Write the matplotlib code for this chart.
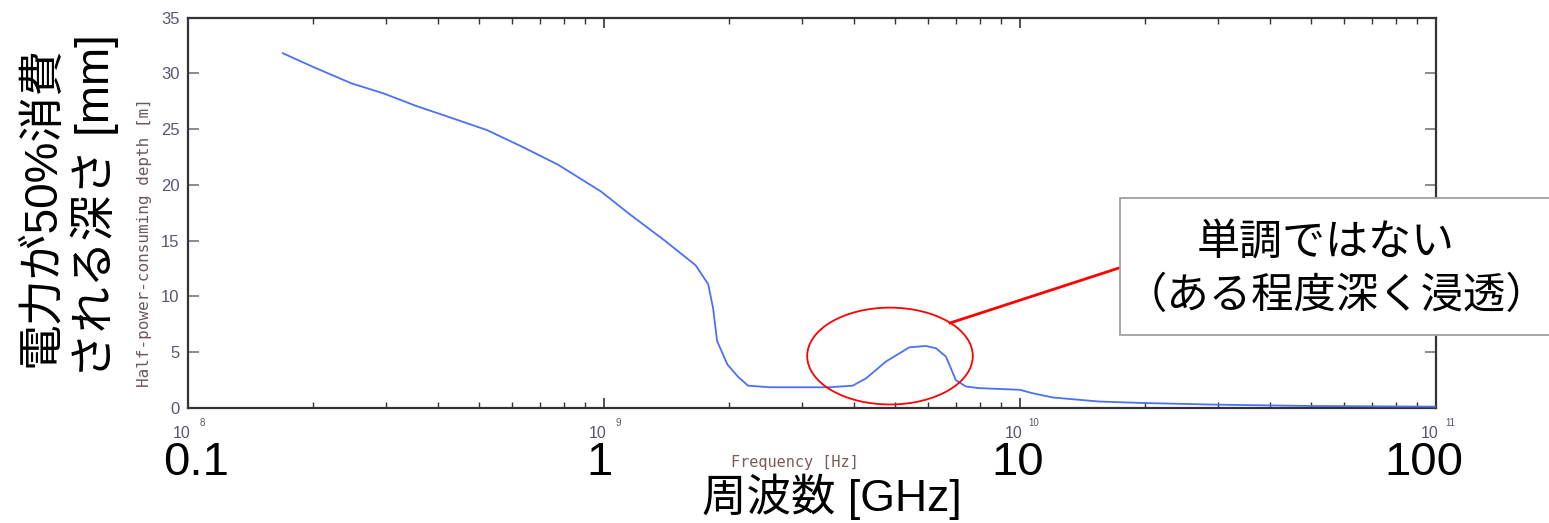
import matplotlib
matplotlib.use("Agg")
import matplotlib.pyplot as plt
from matplotlib.patches import Ellipse, Rectangle
from matplotlib.lines import Line2D
from matplotlib.transforms import ScaledTranslation

# ---------------- data ----------------
freq_hz = [1.69e8, 1.99e8, 2.47e8, 2.95e8, 3.52e8, 4.30e8, 5.24e8, 6.37e8, 7.76e8,
           9.84e8, 1.15e9, 1.40e9, 1.66e9, 1.78e9, 1.83e9, 1.87e9, 1.98e9, 2.10e9,
           2.22e9, 2.50e9, 3.48e9, 3.96e9, 4.27e9, 4.76e9, 5.42e9, 5.94e9, 6.28e9,
           6.64e9, 7.01e9, 7.41e9, 7.98e9, 1.00e10, 1.07e10, 1.20e10, 1.55e10,
           1.97e10, 2.95e10, 5.0e10, 1.0e11]
depth_mm = [31.8, 30.6, 29.1, 28.2, 27.1, 26.0, 24.9, 23.4, 21.8,
            19.4, 17.4, 15.0, 12.8, 11.1, 8.9, 6.0, 3.9, 2.8,
            2.0, 1.86, 1.86, 2.0, 2.67, 4.16, 5.44, 5.56, 5.36,
            4.6, 2.5, 1.93, 1.78, 1.63, 1.33, 0.94, 0.58,
            0.45, 0.30, 0.18, 0.12]

x_major = [1e8, 1e9, 1e10, 1e11]
x_exponents = ["8", "9", "10", "11"]
y_ticks = [0, 5, 10, 15, 20, 25, 30, 35]
ghz_labels = ["0.1", "1", "10", "100"]

W, H = 1549, 523
fig = plt.figure(figsize=(W / 100, H / 100), dpi=100)
ax = fig.add_axes([188 / W, 1 - 408 / H, (1436 - 188) / W, (408 - 17.5) / H])

small_col = "#5c5470"
mono = ["DejaVu Sans Mono"]

ax.plot(freq_hz, depth_mm, color="#4d6ff2", lw=1.3, zorder=3)
ax.set_xscale("log")
ax.set_xlim(1e8, 1e11)
ax.set_ylim(0, 35)

for s in ax.spines.values():
    s.set_color("#333333")
    s.set_linewidth(1.6)

ax.set_xticks(x_major)
ax.set_xticklabels(["10"] * len(x_major), fontsize=11.5, color=small_col,
                   family=["Liberation Sans"])
ax.set_yticks(y_ticks)
ax.set_yticklabels([str(v) for v in y_ticks], fontsize=12, color=small_col,
                   family=["Liberation Sans"])
ax.tick_params(axis="x", which="major", direction="in", length=7, width=1.2,
               top=True, bottom=True, colors="#333333", labelcolor=small_col, pad=13)
ax.tick_params(axis="x", which="minor", direction="in", length=4, width=1.0,
               top=True, bottom=True, colors="#333333")
ax.tick_params(axis="y", which="major", direction="in", length=8, width=1.2,
               left=True, right=True, colors="#777777", labelcolor=small_col, pad=6)
for lab in ax.get_xticklabels():
    lab.set_transform(lab.get_transform() + ScaledTranslation(-6 / 100, 0, fig.dpi_scale_trans))

for xv, ex in zip(x_major, x_exponents):
    ax.annotate(ex, xy=(xv, 0), xycoords=("data", "axes fraction"),
                xytext=(10, -11), textcoords="offset points", fontsize=7,
                color=small_col, ha="center", va="center", family=["Liberation Sans"])

# original small axis labels
fig.text(795 / W, 1 - 463 / H, "Frequency [Hz]", fontsize=11, color="#7a5a55",
         family=mono, ha="center", va="center")
fig.text(145 / W, 1 - 243 / H, "Half-power-consuming depth [m]", fontsize=11.5,
         color="#6a5a5a", family=mono, ha="center", va="center", rotation=90)

# big overlaid labels
big_x = [196, 599, 1018, 1424]
for px, lab in zip(big_x, ghz_labels):
    fig.text(px / W, 1 - 463 / H, lab, fontsize=34, color="black",
             family=["Liberation Sans"], ha="center", va="center")

cjk = ["Liberation Sans", "Noto Sans CJK JP"]
fig.text(832 / W, 1 - 497 / H, "周波数 [GHz]", fontsize=32, family=cjk,
         ha="center", va="center")
fig.text(70 / W, 1 - 206 / H, "電力が50%消費\nされる深さ [mm]", fontsize=33,
         family=cjk, ha="center", va="center", rotation=90, linespacing=1.15,
         multialignment="center")

# ellipse highlight
ell = Ellipse((0.5625, 0.133), 0.1327, 0.248, transform=ax.transAxes,
              fill=False, edgecolor="#ff0000", lw=1.3, zorder=5, clip_on=False)
ax.add_patch(ell)

# connector line
fig.add_artist(Line2D([950 / W, 1122 / W], [1 - 323 / H, 1 - 267 / H],
                      color="#ff0000", lw=2.0, zorder=6))

# callout box
box = Rectangle((1120 / W, 1 - 335 / H), 0.3, (335 - 198) / H, transform=fig.transFigure,
                facecolor="white", edgecolor="#a0a0a0", lw=1.3, zorder=10)
fig.add_artist(box)
fig.text(1326 / W, 1 - 244 / H, "単調ではない", fontsize=31, family=cjk,
         ha="center", va="center", zorder=11)
fig.text(1336 / W, 1 - 297 / H, "（ある程度深く浸透）", fontsize=30.5, family=cjk,
         ha="center", va="center", zorder=11)

fig.savefig("out.png", dpi=100, facecolor="white")
